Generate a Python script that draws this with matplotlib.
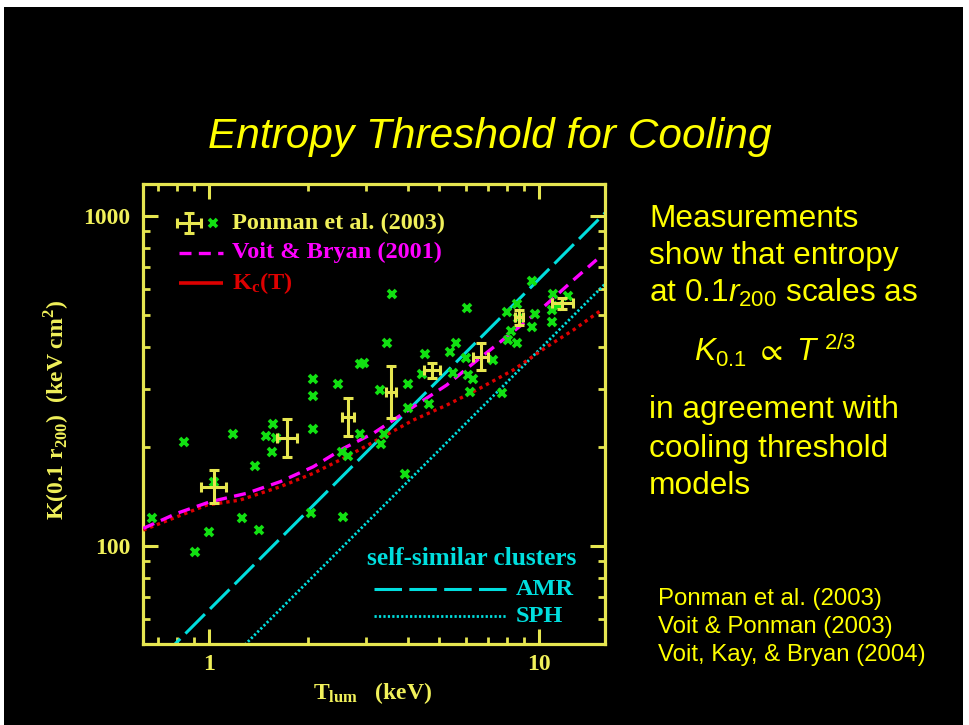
import matplotlib
matplotlib.use("Agg")
import matplotlib.pyplot as plt
from matplotlib.patches import Rectangle
from matplotlib.ticker import FixedLocator, LogLocator, NullFormatter, FuncFormatter

plt.rcParams['font.family'] = ['Liberation Serif', 'DejaVu Serif']
plt.rcParams['mathtext.fontset'] = 'custom'
plt.rcParams['mathtext.rm'] = 'Liberation Sans'
plt.rcParams['mathtext.it'] = 'Liberation Sans:italic'
plt.rcParams['mathtext.bf'] = 'Liberation Serif:bold'
plt.rcParams['mathtext.fallback'] = 'stixsans'

# ---- individual clusters (Ponman et al. 2003) ----
T_obs = [0.668, 0.840, 0.905, 1.00, 1.033, 1.183, 1.254, 1.376, 1.416, 1.486,
         1.547, 1.564, 1.594, 2.032, 2.069, 2.069, 2.069, 2.465, 2.542, 2.534,
         2.643, 2.869, 2.950, 2.869, 3.299, 3.322, 3.400, 3.458, 3.580, 3.929,
         4.012, 4.004, 4.416, 4.529, 4.658, 5.383, 5.508, 5.614, 6.019, 6.074,
         6.117, 6.190, 6.308, 7.286, 7.726, 8.001, 8.058, 8.246, 8.581, 8.581,
         8.641, 9.528, 9.752, 9.528, 10.96, 11.04, 11.45, 12.26, 10.96]
K_obs = [121.8, 207.0, 96.1, 110.5, 156.6, 218.0, 121.8, 175.1, 111.8, 215.9,
         193.1, 233.8, 212.1, 125.6, 320.0, 284.8, 225.8, 309.7, 122.7, 193.1,
         187.4, 356.0, 357.7, 218.0, 297.0, 203.3, 218.0, 413.2, 579.0, 165.3,
         309.7, 261.4, 331.4, 381.0, 268.8, 388.0, 333.7, 413.2, 370.6, 525.2,
         329.8, 293.5, 320.0, 366.3, 291.5, 512.9, 421.0, 448.3, 540.1, 413.2,
         491.9, 461.9, 503.7, 633.2, 478.4, 580.2, 533.7, 572.2, 519.0]

# ---- temperature-binned averages with errors ----
T_bin = [1.033, 1.722, 2.632, 3.555, 4.756, 6.670, 8.738, 11.80]
T_bin_lo = [0.946, 1.609, 2.524, 3.440, 4.487, 6.335, 8.479, 11.01]
T_bin_hi = [1.126, 1.846, 2.756, 3.690, 5.019, 7.035, 8.985, 12.70]
K_bin = [151.2, 212.1, 246.5, 293.5, 341.5, 374.7, 495.2, 546.0]
K_bin_lo = [135.3, 186.5, 215.4, 244.8, 323.6, 341.5, 467.4, 522.5]
K_bin_hi = [169.9, 242.1, 280.3, 351.9, 357.8, 413.2, 518.9, 565.4]

# ---- Voit & Bryan (2001) model ----
T_vb = [0.630, 0.796, 1.005, 1.299, 1.639, 2.069, 2.553, 3.148, 4.165, 5.26,
        6.335, 8.0, 10.1, 12.75, 15.0]
K_vb = [113.1, 125.6, 136.2, 144.5, 156.6, 173.9, 197.6, 219.6, 264.2, 307.5,
        357.8, 430.5, 518.6, 639.5, 736.9]

# ---- cooling threshold K_c(T) ----
T_kc = [0.630, 0.982, 1.239, 1.639, 2.069, 2.612, 3.30, 4.165, 5.26, 6.63,
        8.37, 10.6, 12.75, 15.5]
K_kc = [111.8, 133.1, 137.8, 151.2, 166.1, 186.5, 212.0, 240.9, 267.3, 300.6,
        341.4, 401.8, 451.4, 518.6]

# ---- self-similar cluster simulations ----
T_amr = [0.60, 16.0]
K_amr = [38.5, 1027.0]
T_sph = [1.20, 16.0]
K_sph = [47.0, 626.0]

xticks = [1, 10]
yticks = [100, 1000]

W, H = 969, 725
AX_YEL = '#e6e650'
LBL_YEL = '#f0f05a'
TXT_YEL = '#ffff00'
GREEN = '#12e012'
MAGENTA = '#ff00ff'
RED = '#dd0000'
CYAN = '#00dede'

AMR_STYLE = dict(color=CYAN, lw=2.2, dashes=(9.0, 2.4))
SPH_STYLE = dict(color=CYAN, lw=2.0, dashes=(0.8, 0.8))
VB_STYLE = dict(color=MAGENTA, lw=2.4, dashes=(3.6, 2.2))


def fx(x):
    return x / W


def fy(y):
    return 1 - y / H


fig = plt.figure(figsize=(W / 100, H / 100), dpi=100, facecolor='white')
fig.patches.append(Rectangle((fx(4), 0), fx(963) - fx(4), fy(7), transform=fig.transFigure,
                             facecolor='black', edgecolor='none', zorder=-10))

# slide title and side text
fig.text(fx(490), fy(148), 'Entropy Threshold for Cooling', color=TXT_YEL,
         fontsize=30.5, family='Liberation Sans', style='italic',
         ha='center', va='baseline')

side = dict(color=TXT_YEL, fontsize=22.8, family='Liberation Sans',
            ha='left', va='baseline')
fig.text(fx(649), fy(226.7), 'Measurements', **side)
fig.text(fx(649), fy(264), 'show that entropy', **side)
fig.text(fx(649), fy(301.7), r'at 0.1$\mathit{r}_{\mathrm{200}}$ scales as', **side)
fig.text(fx(694), fy(361.7), r'$\mathit{K}_{\mathrm{0.1}}\ \propto\ \mathit{T}^{\ \mathrm{2/3}}$', **side)
fig.text(fx(649), fy(418.3), 'in agreement with', **side)
fig.text(fx(649), fy(456.7), 'cooling threshold', **side)
fig.text(fx(649), fy(494), 'models', **side)

refs = dict(color=TXT_YEL, fontsize=17.3, family='Liberation Sans',
            ha='left', va='baseline')
fig.text(fx(658), fy(605), 'Ponman et al. (2003)', **refs)
fig.text(fx(658), fy(632.7), 'Voit & Ponman (2003)', **refs)
fig.text(fx(658), fy(661.5), 'Voit, Kay, & Bryan (2004)', **refs)

# ---- the plot ----
ax = fig.add_axes([fx(143), fy(644), fx(605) - fx(143), fy(184) - fy(644)])
ax.set_facecolor('black')
ax.set_xscale('log')
ax.set_yscale('log')

ax.plot(T_amr, K_amr, zorder=2, **AMR_STYLE)
ax.plot(T_sph, K_sph, zorder=2, **SPH_STYLE)
ax.plot(T_kc, K_kc, color=RED, lw=2.4, dashes=(1.0, 1.2), zorder=3)
ax.plot(T_vb, K_vb, zorder=3, **VB_STYLE)
ax.plot(T_obs, K_obs, linestyle='none', marker='x', ms=6.2, mew=2.7, color=GREEN, zorder=4)

xerr = [[t - lo for t, lo in zip(T_bin, T_bin_lo)], [hi - t for t, hi in zip(T_bin, T_bin_hi)]]
yerr = [[k - lo for k, lo in zip(K_bin, K_bin_lo)], [hi - k for k, hi in zip(K_bin, K_bin_hi)]]
ax.errorbar(T_bin, K_bin, xerr=xerr, yerr=yerr, fmt='none', ecolor=AX_YEL,
            elinewidth=2.2, capsize=3.4, capthick=2.2, zorder=5)

ax.set_xlim(0.629, 15.91)
ax.set_ylim(50.5, 1250)

for s in ax.spines.values():
    s.set_color(AX_YEL)
    s.set_linewidth(2.3)

ax.xaxis.set_major_locator(FixedLocator(xticks))
ax.yaxis.set_major_locator(FixedLocator(yticks))
ax.xaxis.set_minor_locator(LogLocator(base=10, subs=range(2, 10)))
ax.yaxis.set_minor_locator(LogLocator(base=10, subs=range(2, 10)))
ax.xaxis.set_major_formatter(FuncFormatter(lambda v, _: f'{v:g}'))
ax.yaxis.set_major_formatter(FuncFormatter(lambda v, _: f'{v:g}'))
ax.xaxis.set_minor_formatter(NullFormatter())
ax.yaxis.set_minor_formatter(NullFormatter())
ax.tick_params(which='both', direction='in', top=True, right=True, color=AX_YEL,
               labelcolor=LBL_YEL, labelsize=17)
ax.tick_params(which='major', length=10.5, width=2.2)
ax.tick_params(which='minor', length=5, width=2.0)
ax.tick_params(axis='x', pad=7)
ax.tick_params(axis='y', pad=9)
for lab in ax.get_xticklabels() + ax.get_yticklabels():
    lab.set_fontweight('bold')

# axis titles
fig.text(fx(56), fy(410), r'K(0.1 r$_{\mathbf{200}}$)  (keV cm$^{\mathbf{2}}$)', rotation=90,
         color=LBL_YEL, fontsize=17, weight='bold', ha='center', va='center')
fig.text(fx(373), fy(693), r'T$_{\mathbf{lum}}$   (keV)', color=LBL_YEL, fontsize=17,
         weight='bold', ha='center', va='center')


def ax_xy(x, y):
    return (x - 143) / 462, (644 - y) / 460


key_txt = dict(fontsize=17.5, weight='bold', va='center', ha='left', transform=ax.transAxes)

# upper-left key
cx, cy = ax_xy(189, 223)
ax.errorbar([cx], [cy], xerr=[[0.025], [0.025]], yerr=[[0.0217], [0.0217]], fmt='none',
            ecolor=AX_YEL, elinewidth=2.2, capsize=3.4, capthick=2.2, transform=ax.transAxes,
            clip_on=False, zorder=6)
gx, gy = ax_xy(212.7, 223.3)
ax.plot([gx], [gy], marker='x', ms=5.5, mew=2.6, color=GREEN, transform=ax.transAxes)
tx, _ = ax_xy(231.7, 0)
ax.text(tx, ax_xy(0, 223)[1], 'Ponman et al. (2003)', color=LBL_YEL, **key_txt)
x0, y0 = ax_xy(179.3, 252.7)
x1, _ = ax_xy(223.3, 252.7)
ax.plot([x0, x1], [y0, y0], transform=ax.transAxes, **VB_STYLE)
ax.text(tx, ax_xy(0, 252)[1], 'Voit & Bryan (2001)', color=MAGENTA, **key_txt)
_, y2 = ax_xy(0, 283.3)
ax.plot([x0, x1], [y2, y2], color=RED, lw=2.6, solid_capstyle='butt', transform=ax.transAxes)
ax.text(tx, ax_xy(0, 283)[1], r'K$_{\mathbf{c}}$(T)', color=RED, **key_txt)

# lower-right key
sx, sy = ax_xy(366.7, 558.3)
ax.text(sx, sy, 'self-similar clusters', color=CYAN,
        **{**key_txt, 'fontsize': 18.2})
lx0, ly0 = ax_xy(374, 589.3)
lx1, _ = ax_xy(506.7, 589.3)
ax.plot([lx0, lx1], [ly0, ly0], transform=ax.transAxes, **AMR_STYLE)
ax.text(ax_xy(515.3, 0)[0], ly0, 'AMR', color=CYAN, **key_txt)
_, ly1 = ax_xy(0, 616)
ax.plot([lx0, lx1], [ly1, ly1], transform=ax.transAxes, **SPH_STYLE)
ax.text(ax_xy(515.3, 0)[0], ly1, 'SPH', color=CYAN, **key_txt)

ax.set_xlim(0.629, 15.91)
ax.set_ylim(50.5, 1250)

fig.savefig('out.png', dpi=100, facecolor=fig.get_facecolor())
